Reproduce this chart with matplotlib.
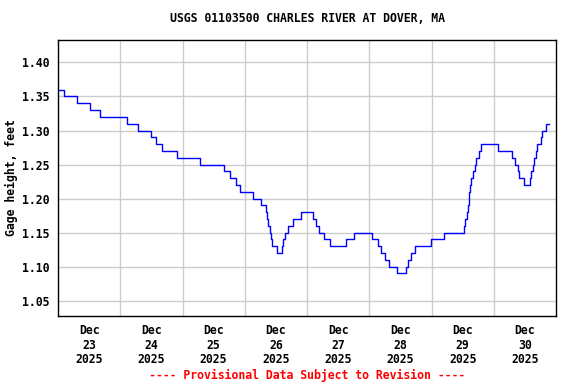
import matplotlib
matplotlib.use('Agg')
import matplotlib.pyplot as plt
import pandas as pd

# gage height steps: hours after 2025-12-23 00:00 where the value changes, and the new value (ft)
STEP_HOURS = [0.0, 2.4, 7.2, 12.5, 16.3, 26.6, 30.7, 35.9, 37.8, 40.0, 45.8, 54.7,
              64.1, 66.2, 68.5, 70.2, 75.0, 78.4, 80.0, 80.5, 81.0, 81.6, 82.1, 82.5,
              83.0, 84.4, 86.2, 86.7, 87.6, 88.6, 90.5, 93.7, 98.5, 99.5, 100.8, 102.5,
              104.9, 111.1, 114.2, 121.2, 123.2, 124.6, 125.9, 127.5, 130.7, 134.2,
              135.0, 136.0, 137.5, 143.7, 148.9, 156.5, 157.0, 157.5, 158.1, 158.3,
              158.6, 159.0, 159.4, 160.1, 160.8, 161.3, 162.2, 163.2, 169.8, 175.2,
              176.1, 177.2, 177.9, 179.6, 182.1, 182.4, 183.1, 183.6, 184.1, 184.8,
              186.1, 186.6, 188.3, 189.2]
STEP_VALUES = [1.36, 1.35, 1.34, 1.33, 1.32, 1.31, 1.30, 1.29, 1.28, 1.27, 1.26, 1.25,
               1.24, 1.23, 1.22, 1.21, 1.20, 1.19, 1.18, 1.17, 1.16, 1.15, 1.14, 1.13,
               1.13, 1.12, 1.13, 1.14, 1.15, 1.16, 1.17, 1.18, 1.17, 1.16, 1.15, 1.14,
               1.13, 1.14, 1.15, 1.14, 1.13, 1.12, 1.11, 1.10, 1.09, 1.10,
               1.11, 1.12, 1.13, 1.14, 1.15, 1.16, 1.17, 1.18, 1.19, 1.20,
               1.21, 1.22, 1.23, 1.24, 1.25, 1.26, 1.27, 1.28, 1.27, 1.26,
               1.25, 1.24, 1.23, 1.22, 1.23, 1.24, 1.25, 1.26, 1.27, 1.28,
               1.29, 1.30, 1.31, 1.31]
YTICKS = [1.05, 1.10, 1.15, 1.20, 1.25, 1.30, 1.35, 1.40]
DAYS = ['2025-12-23', '2025-12-24', '2025-12-25', '2025-12-26',
        '2025-12-27', '2025-12-28', '2025-12-29', '2025-12-30']

start = pd.Timestamp('2025-12-23')
times = [start + pd.Timedelta(hours=h) for h in STEP_HOURS]

mono = 'DejaVu Sans Mono'
fs = 8.3
fig = plt.figure(figsize=(5.76, 3.84), dpi=100)
ax = fig.add_axes([58 / 576, 68 / 384, 498 / 576, 276 / 384])

ax.plot(times, STEP_VALUES, drawstyle='steps-post', color='#0000ff', lw=1.0)

day_ts = [pd.Timestamp(d) for d in DAYS]
ax.set_xlim(day_ts[0], day_ts[-1] + pd.Timedelta(days=1))
ax.set_ylim(1.0275, 1.433)

# gridlines at midnight, date labels centred on each day
ax.set_xticks(day_ts[1:])
ax.set_xticklabels([])
ax.set_xticks([d + pd.Timedelta(hours=12) for d in day_ts], minor=True)
ax.set_xticklabels([d.strftime('%b\n%d\n%Y') for d in day_ts], minor=True,
                   fontfamily=mono, fontweight='bold', fontsize=fs, linespacing=1.15)
ax.set_yticks(YTICKS)
ax.set_yticklabels(['%.2f' % v for v in YTICKS], fontfamily=mono, fontweight='bold', fontsize=fs)
ax.tick_params(which='both', length=0)
ax.tick_params(axis='y', pad=6)
ax.tick_params(axis='x', which='minor', pad=6)

ax.grid(True, which='major', color='#cccccc', lw=1.0)
ax.set_axisbelow(True)
for s in ax.spines.values():
    s.set_linewidth(1.0)
    s.set_color('black')

ax.set_ylabel('Gage height, feet', fontfamily=mono, fontweight='bold', fontsize=fs, labelpad=3)
fig.text(307 / 576, 1 - 19 / 384, 'USGS 01103500 CHARLES RIVER AT DOVER, MA', ha='center', va='center',
         fontfamily=mono, fontweight='bold', fontsize=fs)
fig.text(307 / 576, 1 - 375 / 384, '---- Provisional Data Subject to Revision ----', ha='center',
         va='center', fontfamily=mono, fontweight='bold', fontsize=fs, color='#ff0000')

fig.savefig('out.png', dpi=100)
